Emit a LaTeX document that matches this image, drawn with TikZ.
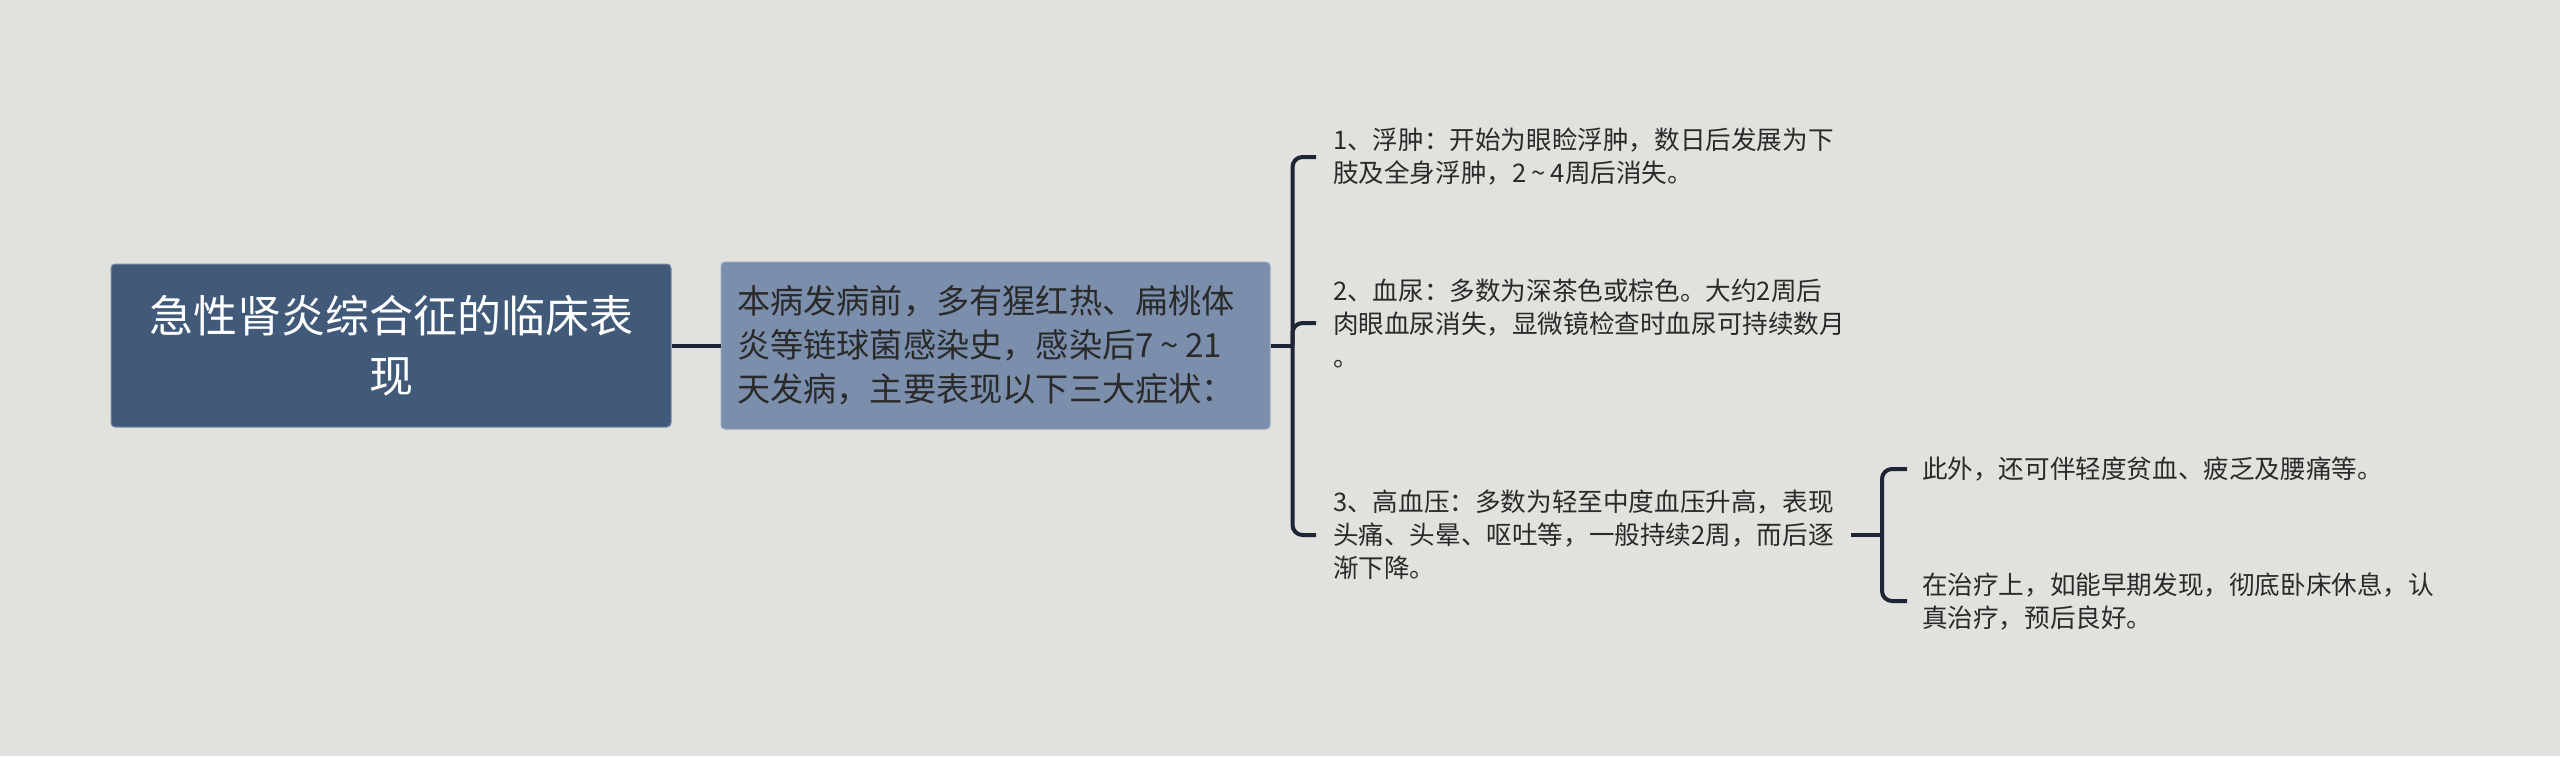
\documentclass[tikz,border=0pt]{standalone}
\usepackage{fontspec}
\setmainfont{Noto Sans CJK SC}
\usetikzlibrary{positioning}
\definecolor{bgcol}{HTML}{E1E2DD}
\definecolor{rootcol}{HTML}{415A7A}
\definecolor{subcol}{HTML}{7B8FAD}
\definecolor{linecol}{HTML}{1E2536}
\definecolor{txtcol}{HTML}{2A2A2A}
\newcommand{\til}{\hspace{0.2em}\textasciitilde\hspace{0.2em}}
\begin{document}
\begin{tikzpicture}[x=0.5pt,y=-0.5pt,line width=2pt,
        root node/.style={rectangle,rounded corners=2pt,fill=rootcol,draw=rootcol!70!white,line width=0.5pt,
          text=white,align=center,minimum width=280pt,minimum height=81.5pt,
          font=\fontsize{22}{30}\selectfont},
        main node/.style={rectangle,rounded corners=2pt,fill=subcol,draw=subcol!80!white,line width=0.5pt,
          text=txtcol,align=left,text width=258.5pt,inner xsep=8pt,minimum height=83.5pt,
          font=\fontsize{16.6}{22}\selectfont},
        leaf node/.style={anchor=west,align=left,inner xsep=7.5pt,inner ysep=2pt,text=txtcol,
          font=\fontsize{12.8}{16.5}\selectfont},
        elbow/.style={rounded corners=5pt,to path={|- (\tikztotarget)}}]

        \useasboundingbox[fill=bgcol] (0,0) rectangle (2560,756);

        \node[root node] (1) at (391,345.5) {急性肾炎综合征的临床表\\现};
        \node[main node] (2) [right=24.5pt of 1] {本病发病前，多有猩红热、扁桃体\\炎等链球菌感染史，感染后7\til21\\天发病，主要表现以下三大症状：};
        \coordinate[right=11pt of 2] (j1);

        \node[leaf node] (a) at (1316,157) {1、浮肿：开始为眼睑浮肿，数日后发展为下\\肢及全身浮肿，2\til4周后消失。};
        \node[leaf node] (b) at (1316,323) {2、血尿：多数为深茶色或棕色。大约2周后\\肉眼血尿消失，显微镜检查时血尿可持续数月\\。};
        \node[leaf node] (c) at (1316,535) {3、高血压：多数为轻至中度血压升高，表现\\头痛、头晕、呕吐等，一般持续2周，而后逐\\渐下降。};
        \coordinate (j2) at (1882,535);

        \node[leaf node,inner xsep=6.5pt] (c1) at (1907,469) {此外，还可伴轻度贫血、疲乏及腰痛等。};
        \node[leaf node,inner xsep=6.5pt] (c2) at (1907,601) {在治疗上，如能早期发现，彻底卧床休息，认\\真治疗，预后良好。};

        \path[every edge/.style={draw=linecol,line width=2pt}]
        (1) edge (2)
        (2) edge (j1)
        (j1) edge [elbow] (a)
        edge [elbow] (b)
        edge [elbow] (c)
        (c) edge (j2)
        (j2) edge [elbow] (c1)
        edge [elbow] (c2);
      \end{tikzpicture}
\end{document}
